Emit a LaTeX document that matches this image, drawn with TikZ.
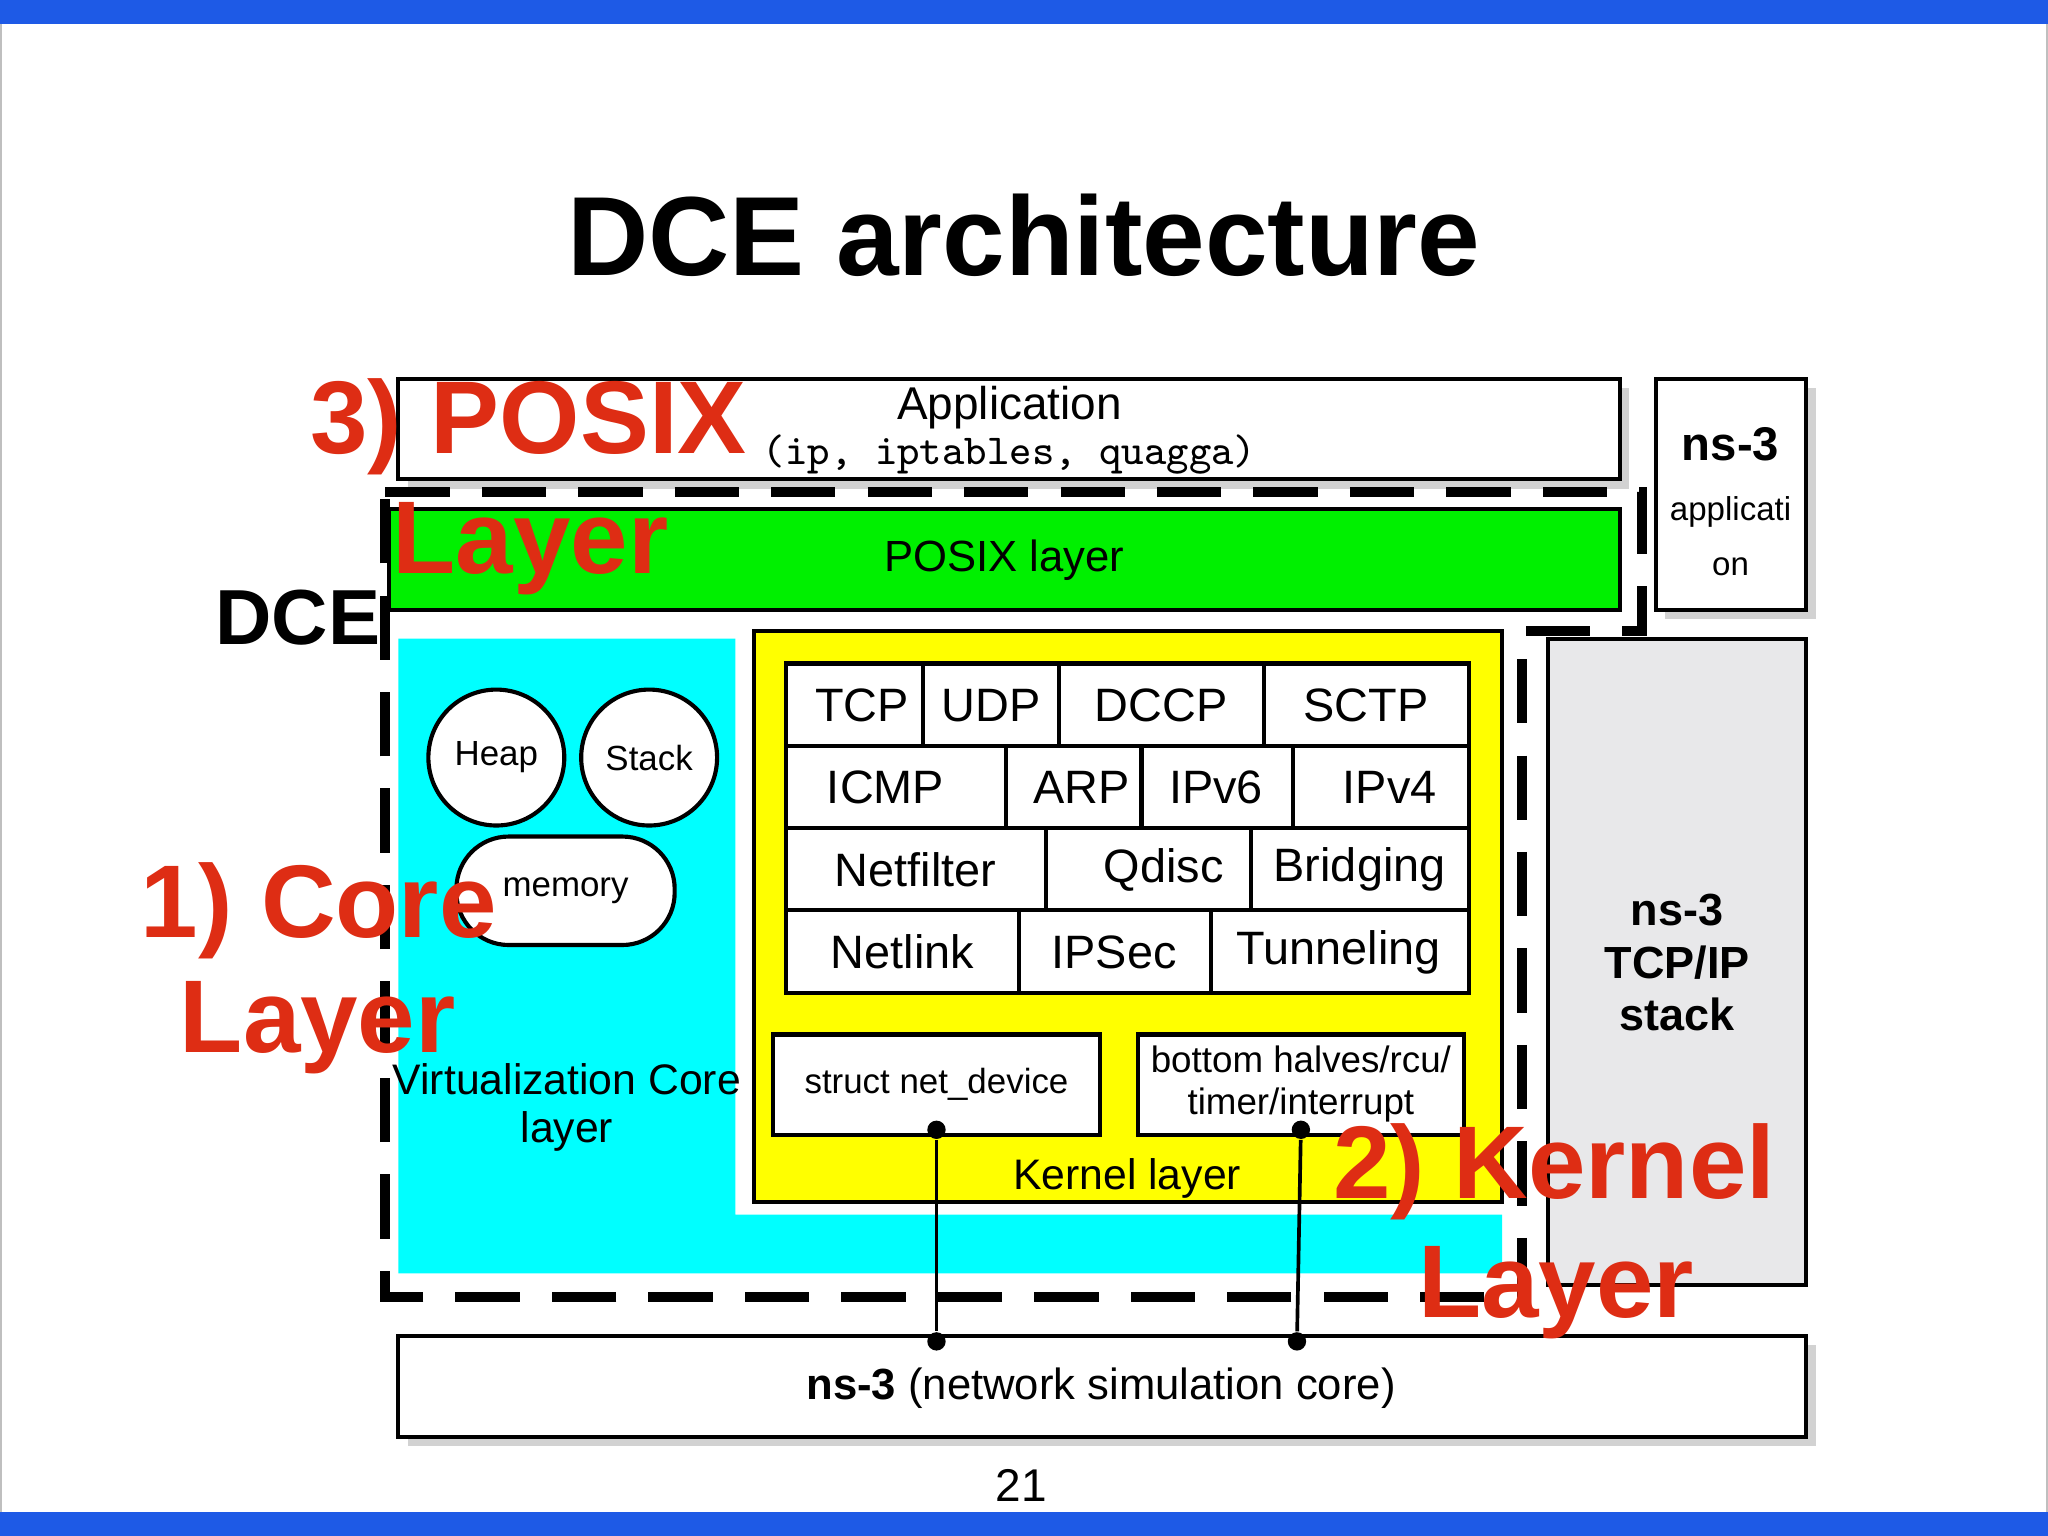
\documentclass[tikz,border=0pt]{standalone}
\usepackage{fontspec}
\setmainfont{Liberation Sans}
\usetikzlibrary{shadows}
\definecolor{slideblue}{RGB}{30,90,230}
\definecolor{labelred}{RGB}{222,45,20}
\definecolor{stackgray}{RGB}{232,232,234}
\definecolor{corecyan}{RGB}{0,255,255}
\definecolor{kernelyellow}{RGB}{255,255,0}
\definecolor{posixgreen}{RGB}{0,240,0}
\tikzset{
  box/.style={draw=black, line width=0.9pt},
  shbox/.style={box, drop shadow={shadow xshift=2pt, shadow yshift=-2pt, opacity=.35}},
  cell/.style={font=\fontsize{10.2}{12}\selectfont},
  small/.style={font=\fontsize{7.6}{9.5}\selectfont, align=center},
  redlbl/.style={text=labelred, font=\fontsize{22.5}{24}\bfseries\selectfont, inner sep=0pt},
  dot/.style={circle, fill=black, inner sep=0pt, minimum size=4pt}
}
\begin{document}
\begin{tikzpicture}[x=0.01cm, y=-0.01cm]
    \useasboundingbox (0,0) rectangle (1568,1176);
    \fill[white] (0,0) rectangle (1568,1176);
    \draw[black!25] (1,18) rectangle (1567,1158);
    \fill[slideblue] (0,0) rectangle (1568,18);
    \fill[slideblue] (0,1158) rectangle (1568,1176);
    \node[font=\fontsize{24.5}{26}\bfseries\selectfont] (title) at (784,180) {DCE architecture};

    %% application + ns-3 boxes
    \draw[shbox, fill=white] (305,290) rectangle (1240,367);
    \node[font=\fontsize{10}{12}\selectfont, inner sep=0pt] (app) at (773,312) {Application};
    \node[font=\fontsize{9.3}{12}\ttfamily\selectfont, inner sep=0pt] (apptools) at (773,348) {(ip, iptables, quagga)};
    \draw[shbox, fill=white] (1268,290) rectangle (1383,467);
    \node[align=center, inner sep=0pt] (nsapp) at (1325,384)
      {{\fontsize{10.3}{12}\bfseries\selectfont ns-3}\\[1pt]{\fontsize{7.2}{8.5}\selectfont applicati}\\{\fontsize{7.2}{8.5}\selectfont on}};
    \draw[box, fill=stackgray] (1185,489) rectangle (1383,984);
    \node[align=center, font=\fontsize{9.8}{11.5}\bfseries\selectfont] (nsstack) at (1284,737) {ns-3\\TCP/IP\\stack};
    \draw[shbox, fill=white] (305,1023) rectangle (1383,1100);
    \node[font=\fontsize{9.5}{12}\selectfont] (nscore) at (843,1063) {\textbf{ns-3} (network simulation core)};

    %% DCE
    \draw[box, fill=posixgreen] (298,390) rectangle (1240,467);
    \node[font=\fontsize{9.5}{12}\selectfont] (posix) at (769,429) {POSIX layer};
    \fill[corecyan] (305,489) -- (563,489) -- (563,930) -- (1150,930) -- (1150,975) -- (305,975) -- cycle;
    \draw[box, fill=kernelyellow] (577,483) rectangle (1150,920);
    \draw[line width=2.2pt, dash pattern=on 14pt off 7pt] (295,377) -- (1257,377) -- (1257,483)
      -- (1165,483) -- (1165,993) -- (295,993) -- cycle;
    \node[font=\fontsize{17}{20}\bfseries\selectfont] (dce) at (228,473) {DCE};

    %% core layer
    \node[box, circle, fill=white, minimum size=1.04cm, small] (heap) at (380,580) {Heap};
    \node[box, circle, fill=white, minimum size=1.04cm, small] (stack) at (497,580) {Stack};
    \node[box, rounded corners=0.4cm, fill=white, minimum width=1.67cm, minimum height=0.83cm, small] (memory) at (433,682) {memory};
    \node[align=center, font=\fontsize{9.3}{10.5}\selectfont] (vcore) at (434,848) {Virtualization Core\\layer};

    %% kernel layer table
    \draw[box, fill=white] (602,508) rectangle (1125,760);
    \foreach \y in {571,634,697} \draw[box] (602,\y) -- (1125,\y);
    \foreach \x in {707,811,968} \draw[box] (\x,508) -- (\x,571);
    \foreach \x in {770,874,990} \draw[box] (\x,571) -- (\x,634);
    \foreach \x in {801,958} \draw[box] (\x,634) -- (\x,697);
    \foreach \x in {780,927} \draw[box] (\x,697) -- (\x,760);
    \node[cell] (tcp) at (660,540) {TCP};
    \node[cell] (udp) at (759,540) {UDP};
    \node[cell] (dccp) at (889,540) {DCCP};
    \node[cell] (sctp) at (1046,540) {SCTP};
    \node[cell] (icmp) at (678,603) {ICMP};
    \node[cell] (arp) at (828,603) {ARP};
    \node[cell] (ipv6) at (931,603) {IPv6};
    \node[cell] (ipv4) at (1064,603) {IPv4};
    \node[cell] (netfilter) at (701,666) {Netfilter};
    \node[cell] (qdisc) at (891,666) {Qdisc};
    \node[cell] (bridging) at (1041,666) {Bridging};
    \node[cell] (netlink) at (691,729) {Netlink};
    \node[cell] (ipsec) at (853,729) {IPSec};
    \node[cell] (tunneling) at (1025,729) {Tunneling};
    \draw[box, fill=white] (592,792) rectangle (842,869);
    \node[small] (netdev) at (717,830) {struct net\_device};
    \draw[box, fill=white] (871,792) rectangle (1121,869);
    \node[font=\fontsize{8}{9}\selectfont, align=center] (bottom) at (996,830) {bottom halves/rcu/\\timer/interrupt};
    \node[font=\fontsize{9.3}{12}\selectfont] (kernel) at (863,902) {Kernel layer};

    %% connectors
    \node[dot] (d1) at (717,865) {};
    \node[dot] (d2) at (717,1027) {};
    \node[dot] (d3) at (996,865) {};
    \node[dot] (d4) at (993,1027) {};
    \draw[line width=0.8pt] (d1) -- (d2);
    \draw[line width=0.8pt] (d3) -- (d4);

    %% red labels
    \node[redlbl, anchor=west] (l3a) at (237,327) {3) POSIX};
    \node[redlbl, anchor=west] (l3b) at (300,420) {Layer};
    \node[redlbl, anchor=west] (l1a) at (107,697) {1) Core};
    \node[redlbl, anchor=west] (l1b) at (137,787) {Layer};
    \node[redlbl, anchor=west] (l2a) at (1020,897) {2) Kernel};
    \node[redlbl, anchor=west] (l2b) at (1085,990) {Layer};

    \node[font=\rmfamily\fontsize{10}{12}\selectfont] (page) at (782,1137) {21};
\end{tikzpicture}
\end{document}
